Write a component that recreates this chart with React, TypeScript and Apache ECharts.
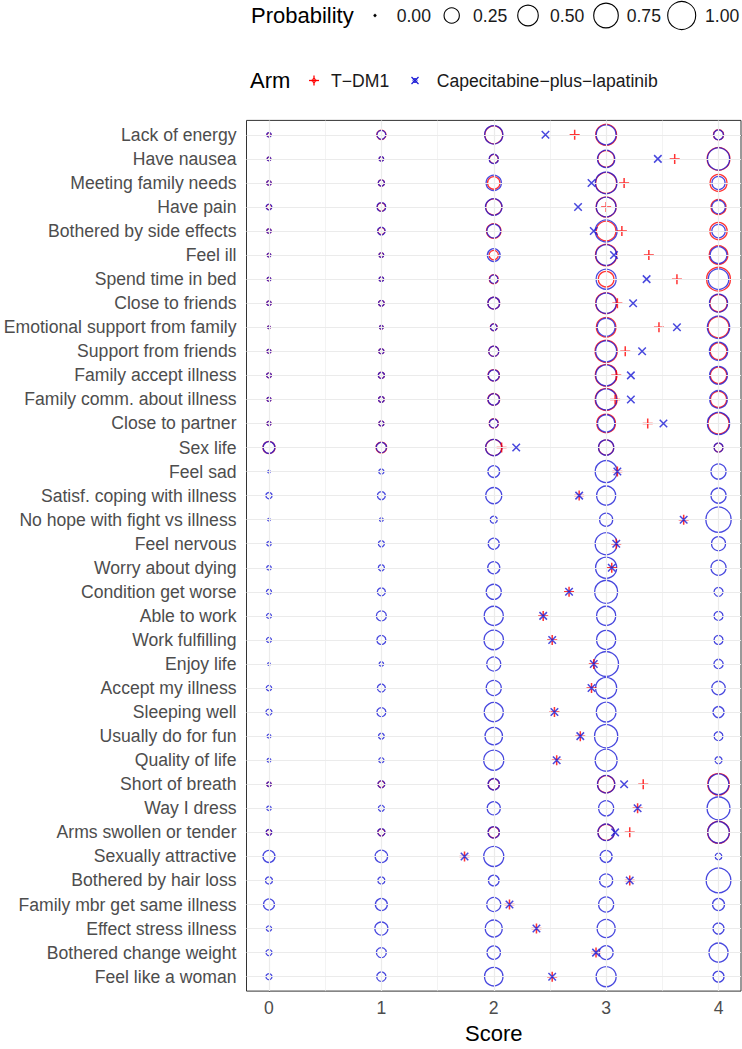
import React, { useEffect, useRef } from "react";
import * as echarts from "echarts";

const categories = [
  "Lack of energy", "Have nausea", "Meeting family needs", "Have pain",
  "Bothered by side effects", "Feel ill", "Spend time in bed", "Close to friends",
  "Emotional support from family", "Support from friends", "Family accept illness",
  "Family comm. about illness", "Close to partner", "Sex life", "Feel sad",
  "Satisf. coping with illness", "No hope with fight vs illness", "Feel nervous",
  "Worry about dying", "Condition get worse", "Able to work", "Work fulfilling",
  "Enjoy life", "Accept my illness", "Sleeping well", "Usually do for fun",
  "Quality of life", "Short of breath", "Way I dress", "Arms swollen or tender",
  "Sexually attractive", "Bothered by hair loss", "Family mbr get same illness",
  "Effect stress illness", "Bothered change weight", "Feel like a woman",
];

const scores = [0, 1, 2, 3, 4];

// Probability of each score (0..4) per item, T-DM1 arm
const tdm1Prob = [
  [0.003, 0.07, 0.36, 0.52, 0.09],
  [0.001, 0.005, 0.06, 0.30, 0.63],
  [0.005, 0.02, 0.15, 0.52, 0.32],
  [0.01, 0.05, 0.28, 0.47, 0.24],
  [0.005, 0.03, 0.22, 0.45, 0.33],
  [0.001, 0.006, 0.07, 0.55, 0.40],
  [0.001, 0.005, 0.065, 0.26, 0.70],
  [0.005, 0.015, 0.13, 0.52, 0.33],
  [0.0, 0.002, 0.03, 0.45, 0.52],
  [0.003, 0.01, 0.09, 0.60, 0.30],
  [0.008, 0.02, 0.12, 0.57, 0.29],
  [0.003, 0.015, 0.13, 0.58, 0.28],
  [0.003, 0.01, 0.07, 0.40, 0.52],
  [0.14, 0.10, 0.28, 0.24, 0.06],
  [0.0, 0.01, 0.13, 0.58, 0.24],
  [0.02, 0.045, 0.28, 0.42, 0.24],
  [0.0, 0.002, 0.03, 0.17, 0.80],
  [0.005, 0.018, 0.11, 0.58, 0.20],
  [0.005, 0.018, 0.14, 0.53, 0.24],
  [0.009, 0.045, 0.24, 0.64, 0.063],
  [0.009, 0.085, 0.42, 0.42, 0.063],
  [0.009, 0.063, 0.44, 0.42, 0.063],
  [0.0, 0.005, 0.20, 0.76, 0.07],
  [0.012, 0.045, 0.24, 0.53, 0.18],
  [0.018, 0.063, 0.42, 0.45, 0.11],
  [0.002, 0.015, 0.34, 0.66, 0.06],
  [0.002, 0.01, 0.47, 0.58, 0.03],
  [0.005, 0.025, 0.11, 0.32, 0.56],
  [0.005, 0.018, 0.17, 0.24, 0.64],
  [0.012, 0.03, 0.11, 0.28, 0.58],
  [0.137, 0.15, 0.47, 0.137, 0.025],
  [0.03, 0.03, 0.10, 0.17, 0.76],
  [0.109, 0.137, 0.20, 0.24, 0.137],
  [0.012, 0.168, 0.32, 0.37, 0.109],
  [0.018, 0.085, 0.18, 0.20, 0.42],
  [0.018, 0.07, 0.39, 0.47, 0.109],
];

// Probability of each score (0..4) per item, Capecitabine-plus-lapatinib arm
const capProb = [
  [0.005, 0.06, 0.38, 0.46, 0.08],
  [0.002, 0.006, 0.07, 0.33, 0.59],
  [0.005, 0.02, 0.25, 0.56, 0.17],
  [0.015, 0.06, 0.30, 0.45, 0.18],
  [0.005, 0.04, 0.19, 0.58, 0.18],
  [0.002, 0.007, 0.16, 0.50, 0.31],
  [0.002, 0.006, 0.05, 0.47, 0.50],
  [0.005, 0.015, 0.13, 0.48, 0.37],
  [0.0, 0.002, 0.025, 0.36, 0.61],
  [0.003, 0.01, 0.09, 0.52, 0.38],
  [0.008, 0.02, 0.11, 0.51, 0.36],
  [0.003, 0.015, 0.12, 0.52, 0.35],
  [0.003, 0.01, 0.06, 0.33, 0.60],
  [0.13, 0.09, 0.29, 0.25, 0.065],
  [0.0, 0.01, 0.13, 0.58, 0.24],
  [0.02, 0.045, 0.28, 0.42, 0.24],
  [0.0, 0.002, 0.03, 0.17, 0.80],
  [0.005, 0.018, 0.11, 0.58, 0.20],
  [0.005, 0.018, 0.14, 0.53, 0.24],
  [0.009, 0.045, 0.24, 0.64, 0.063],
  [0.009, 0.085, 0.42, 0.42, 0.063],
  [0.009, 0.063, 0.44, 0.42, 0.063],
  [0.0, 0.005, 0.20, 0.76, 0.07],
  [0.012, 0.045, 0.24, 0.53, 0.18],
  [0.018, 0.063, 0.42, 0.45, 0.11],
  [0.002, 0.015, 0.34, 0.66, 0.06],
  [0.002, 0.01, 0.47, 0.58, 0.03],
  [0.005, 0.03, 0.12, 0.34, 0.50],
  [0.005, 0.018, 0.17, 0.24, 0.64],
  [0.015, 0.035, 0.12, 0.30, 0.55],
  [0.137, 0.15, 0.47, 0.137, 0.025],
  [0.03, 0.03, 0.10, 0.17, 0.76],
  [0.109, 0.137, 0.20, 0.24, 0.137],
  [0.012, 0.168, 0.32, 0.37, 0.109],
  [0.018, 0.085, 0.18, 0.20, 0.42],
  [0.018, 0.07, 0.39, 0.47, 0.109],
];

// Mean score per item
const tdm1Mean = [
  2.72, 3.61, 3.16, 3.0, 3.14, 3.38, 3.63, 3.1, 3.47, 3.17, 3.09, 3.08, 3.37, 2.07,
  3.1, 2.76, 3.69, 3.09, 3.05, 2.67, 2.44, 2.52, 2.89, 2.87, 2.54, 2.77, 2.56,
  3.33, 3.28, 3.21, 1.74, 3.21, 2.14, 2.38, 2.91, 2.52,
];
const capMean = [
  2.46, 3.46, 2.87, 2.75, 2.89, 3.07, 3.36, 3.24, 3.63, 3.32, 3.22, 3.22, 3.51, 2.2,
  3.1, 2.76, 3.69, 3.09, 3.05, 2.67, 2.44, 2.52, 2.89, 2.87, 2.54, 2.77, 2.56,
  3.16, 3.28, 3.08, 1.74, 3.21, 2.14, 2.38, 2.91, 2.52,
];

const legendProbs = [0, 0.25, 0.5, 0.75, 1.0];
const legendProbLabels = ["0.00", "0.25", "0.50", "0.75", "1.00"];

const FONT = "Liberation Sans, Arial, Helvetica, sans-serif";
const RED = "#ff0000";
const BLUE = "#1a1ad6";
const sizeOf = (p: number) => 2.6 + 25.4 * Math.sqrt(p);

const PLUS = "path://M0,5L10,5M5,0L5,10";
const CROSS = "path://M0,0L10,10M10,0L0,10";

export default function App() {
  const ref = useRef<HTMLDivElement>(null);
  useEffect(() => {
    if (!ref.current) return;
    const chart = echarts.init(ref.current, null, { renderer: "svg" });

    // Items where both arms coincide entirely: the T-DM1 rings lie hidden under the other arm's
    const sameRow = tdm1Prob.map((row, i) => row.every((p, j) => Math.abs(p - capProb[i][j]) < 1e-9));
    const redCircles: number[][] = [];
    tdm1Prob.forEach((row, i) => {
      if (sameRow[i]) return;
      row.forEach((p, j) => redCircles.push([scores[j], i, p]));
    });
    const blueCircles: number[][] = [];
    capProb.forEach((row, i) => row.forEach((p, j) => blueCircles.push([scores[j], i, p])));
    const redMeans = tdm1Mean.map((m, i) => [m, i]);
    const blueMeans = capMean.map((m, i) => [m, i]);

    const rowIdx = categories.map((_, i) => i);
    const majorX = [0, 1, 2, 3, 4];
    const minorX = [0.5, 1.5, 2.5, 3.5];

    const legendX = [375, 451.7, 528, 606, 681.7];
    const legendLabelX = [396.7, 473, 550, 626.7, 705];
    const graphics: any[] = [
      { type: "text", left: 251, top: 4, style: { text: "Probability", font: `22px ${FONT}`, fill: "#000" } },
      { type: "text", left: 250, top: 69, style: { text: "Arm", font: `22px ${FONT}`, fill: "#000" } },
    ];
    legendProbs.forEach((p, k) => {
      graphics.push({
        type: "circle",
        shape: { cx: legendX[k], cy: 15.5, r: sizeOf(p) / 2 },
        style: p === 0 ? { fill: "#000", stroke: "#000", lineWidth: 0.5 } : { fill: "none", stroke: "#000", lineWidth: 1.1 },
      });
      graphics.push({
        type: "text", x: legendLabelX[k], y: 15.5,
        style: { text: legendProbLabels[k], font: `17.6px ${FONT}`, fill: "#1a1a1a", verticalAlign: "middle" },
      });
    });
    // Arm legend keys
    const cy = 80.5;
    graphics.push(
      { type: "line", shape: { x1: 309, y1: cy, x2: 319, y2: cy }, style: { stroke: RED, lineWidth: 1.3 } },
      { type: "line", shape: { x1: 314, y1: cy - 5, x2: 314, y2: cy + 5 }, style: { stroke: RED, lineWidth: 1.3 } },
      { type: "circle", shape: { cx: 314, cy, r: 2 }, style: { fill: "none", stroke: RED, lineWidth: 1 } },
      { type: "text", x: 331, y: cy, style: { text: "T\u2212DM1", font: `17.6px ${FONT}`, fill: "#1a1a1a", verticalAlign: "middle" } },
      { type: "line", shape: { x1: 411.5, y1: cy - 3.5, x2: 418.5, y2: cy + 3.5 }, style: { stroke: BLUE, lineWidth: 1.3 } },
      { type: "line", shape: { x1: 418.5, y1: cy - 3.5, x2: 411.5, y2: cy + 3.5 }, style: { stroke: BLUE, lineWidth: 1.3 } },
      { type: "circle", shape: { cx: 415, cy, r: 2 }, style: { fill: "none", stroke: BLUE, lineWidth: 1 } },
      { type: "text", x: 436.7, y: cy, style: { text: "Capecitabine\u2212plus\u2212lapatinib", font: `17.6px ${FONT}`, fill: "#1a1a1a", verticalAlign: "middle" } },
    );

    const option: any = {
      animation: false,
      backgroundColor: "#ffffff",
      textStyle: { fontFamily: FONT },
      grid: {
        left: 246.5, right: 1, top: 120.4, bottom: 50.5,
        show: true, borderColor: "#333333", borderWidth: 1, backgroundColor: "#ffffff",
        containLabel: false,
      },
      xAxis: {
        type: "value", min: -0.2, max: 4.2,
        name: "Score", nameLocation: "middle", nameGap: 28,
        nameTextStyle: { fontSize: 22, color: "#000", fontFamily: FONT },
        axisLine: { show: true, lineStyle: { color: "#333333", width: 1 } },
        axisTick: { show: true, length: 4, lineStyle: { color: "#333333" }, customValues: majorX },
        axisLabel: { customValues: majorX, fontSize: 17.6, color: "#4d4d4d", margin: 8, fontFamily: FONT },
        splitLine: { show: false },
      },
      yAxis: {
        type: "value", min: -0.6, max: 35.6, inverse: true,
        axisLine: { show: true, lineStyle: { color: "#333333", width: 1 } },
        axisTick: { show: true, length: 4, lineStyle: { color: "#333333" }, customValues: rowIdx },
        axisLabel: {
          customValues: rowIdx, fontSize: 17.6, color: "#4d4d4d", margin: 10, fontFamily: FONT,
          formatter: (v: number) => categories[Math.round(v)] ?? "",
        },
        splitLine: { show: false },
      },
      graphic: graphics,
      series: [
        {
          type: "scatter", name: "gridMinor", data: [[0, 0]], symbolSize: 0, silent: true, z: 1,
          markLine: {
            silent: true, symbol: ["none", "none"], label: { show: false },
            lineStyle: { color: "#ebebeb", width: 0.6, type: "solid" },
            emphasis: { disabled: true },
            data: minorX.map((x) => ({ xAxis: x })),
          },
        },
        {
          type: "scatter", name: "gridMajor", data: [[0, 0]], symbolSize: 0, silent: true, z: 1,
          markLine: {
            silent: true, symbol: ["none", "none"], label: { show: false },
            lineStyle: { color: "#ebebeb", width: 1.2, type: "solid" },
            emphasis: { disabled: true },
            data: [...majorX.map((x) => ({ xAxis: x })), ...rowIdx.map((y) => ({ yAxis: y }))],
          },
        },
        {
          type: "scatter", name: "T-DM1 prob", data: redCircles, z: 2, silent: true,
          symbol: "circle", symbolSize: (v: number[]) => sizeOf(v[2]),
          itemStyle: { color: "none", borderColor: RED, borderWidth: 1.3 },
        },
        {
          type: "scatter", name: "Cap prob", data: blueCircles, z: 3, silent: true,
          symbol: "circle", symbolSize: (v: number[]) => sizeOf(v[2]),
          itemStyle: { color: "none", borderColor: BLUE, borderWidth: 1.3 },
        },
        {
          type: "scatter", name: "T-DM1", data: redMeans, z: 4, silent: true,
          symbol: PLUS, symbolSize: 10,
          itemStyle: { color: "none", borderColor: RED, borderWidth: 1.5 },
        },
        {
          type: "scatter", name: "Capecitabine-plus-lapatinib", data: blueMeans, z: 5, silent: true,
          symbol: CROSS, symbolSize: 7.5,
          itemStyle: { color: "none", borderColor: BLUE, borderWidth: 1.5 },
        },
      ],
    };
    chart.setOption(option);
    return () => chart.dispose();
  }, []);

  return (
    <div
      ref={ref}
      style={{ position: "absolute", left: 0, top: 0, width: 742, height: 1049, background: "#fff" }}
    />
  );
}
